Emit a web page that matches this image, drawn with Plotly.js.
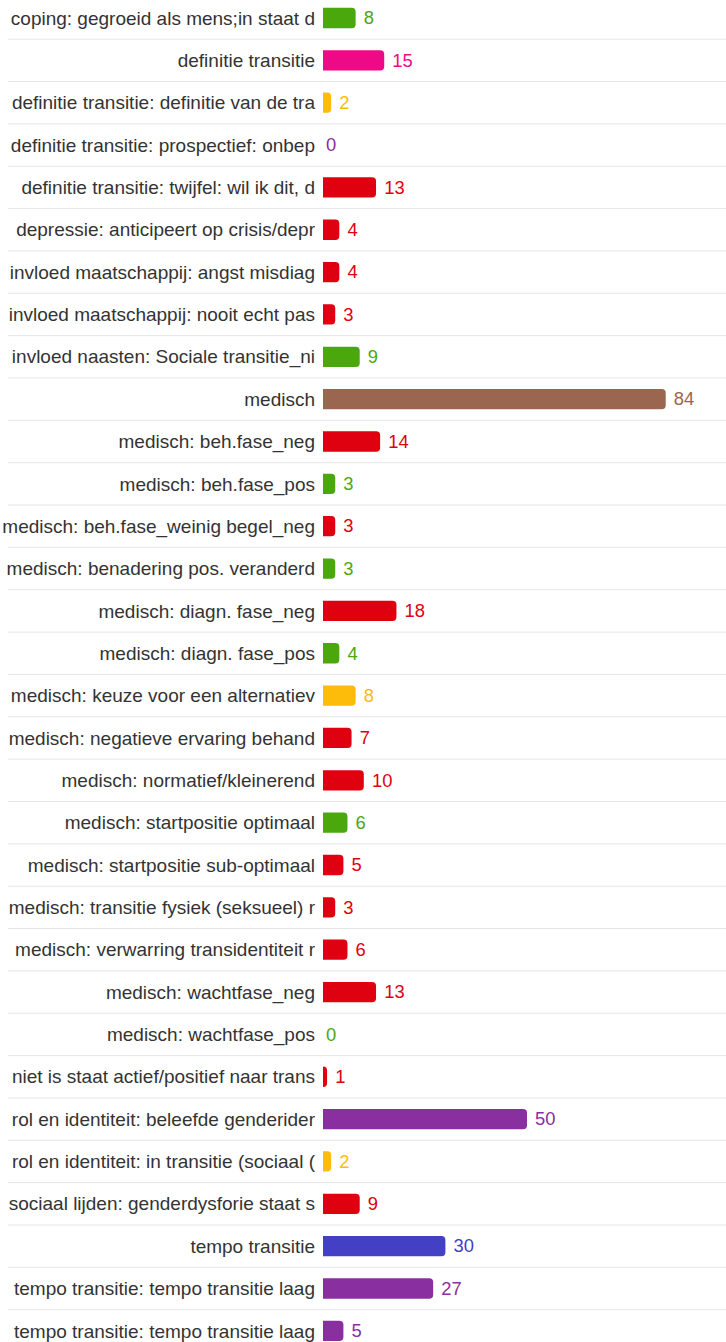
<!DOCTYPE html>
<html>
<head>
<meta charset="utf-8">
<script src="https://cdn.plot.ly/plotly-3.0.1.min.js"></script>
<style>
html,body{margin:0;padding:0;background:#fff;}
#chart{width:726px;height:1342px;}
</style>
</head>
<body>
<div id="chart"></div>
<script>
var labels = [
  "coping: gegroeid als mens;in staat d",
  "definitie transitie",
  "definitie transitie: definitie van de tra",
  "definitie transitie: prospectief: onbep",
  "definitie transitie: twijfel: wil ik dit, d",
  "depressie: anticipeert op crisis/depr",
  "invloed maatschappij: angst misdiag",
  "invloed maatschappij: nooit echt pas",
  "invloed naasten: Sociale transitie_ni",
  "medisch",
  "medisch: beh.fase_neg",
  "medisch: beh.fase_pos",
  "medisch: beh.fase_weinig begel_neg",
  "medisch: benadering pos. veranderd",
  "medisch: diagn. fase_neg",
  "medisch: diagn. fase_pos",
  "medisch: keuze voor een alternatiev",
  "medisch: negatieve ervaring behand",
  "medisch: normatief/kleinerend",
  "medisch: startpositie optimaal",
  "medisch: startpositie sub-optimaal",
  "medisch: transitie fysiek (seksueel) r",
  "medisch: verwarring transidentiteit r",
  "medisch: wachtfase_neg",
  "medisch: wachtfase_pos",
  "niet is staat actief/positief naar trans",
  "rol en identiteit: beleefde genderider",
  "rol en identiteit: in transitie (sociaal (",
  "sociaal lijden: genderdysforie staat s",
  "tempo transitie",
  "tempo transitie: tempo transitie laag",
  "tempo transitie: tempo transitie laag"
];
var values = [8,15,2,0,13,4,4,3,9,84,14,3,3,3,18,4,8,7,10,6,5,3,6,13,0,1,50,2,9,30,27,5];
var colorNames = ["green","pink","yellow","purple","red","red","red","red","green","brown",
  "red","green","red","green","red","green","yellow","red","red","green","red","red","red","red","green",
  "red","purple","yellow","red","blue","purple","purple"];
var palette = {green:"#4aa80c", pink:"#ee0a87", yellow:"#fdbb0a", purple:"#8a2f9f",
  red:"#df0010", brown:"#9a6650", blue:"#4340c6"};

var idx = labels.map(function(_, i){ return i; });
var colors = colorNames.map(function(c){ return palette[c]; });

var W = 726, H = 1342, L = 323;
var pxPerUnit = 4.08;
var rowH = 42.35, firstCenter = 18;
var y0 = -0.5 + (rowH/2 - firstCenter)/rowH;
var y1 = y0 + H/rowH;
var FONT = "Liberation Sans, Arial, Helvetica, sans-serif";

var shapes = [];
for (var i = 0; i < labels.length; i++) {
  shapes.push({type:"line", xref:"paper", yref:"y", x0:(8-L)/(W-L), x1:1,
    y0:i+0.5, y1:i+0.5, line:{color:"#e6e6e6", width:1}, layer:"below"});
}

var trace = {
  type:"bar", orientation:"h", x:values, y:idx,
  marker:{color:colors, line:{width:0}},
  width:0.48,
  text:values.map(function(v){ return v === 0 ? String(v) : "\u00a0" + v; }),
  textposition:"outside", cliponaxis:false,
  textfont:{family:FONT, size:19, color:colors},
  hoverinfo:"none"
};

var layout = {
  width:W, height:H,
  margin:{l:L, r:0, t:0, b:0, pad:0},
  paper_bgcolor:"#fff", plot_bgcolor:"#fff",
  barcornerradius:4,
  showlegend:false,
  xaxis:{range:[0,(W-L)/pxPerUnit], visible:false, fixedrange:true},
  yaxis:{range:[y1,y0], tickvals:idx, ticktext:labels, showgrid:false, zeroline:false,
    showline:false, ticks:"", ticklabelstandoff:7,
    tickfont:{family:FONT, size:19, color:"#333"}},
  shapes:shapes,
  font:{family:FONT}
};
Plotly.newPlot("chart", [trace], layout, {displayModeBar:false, staticPlot:true});
</script>
</body>
</html>
